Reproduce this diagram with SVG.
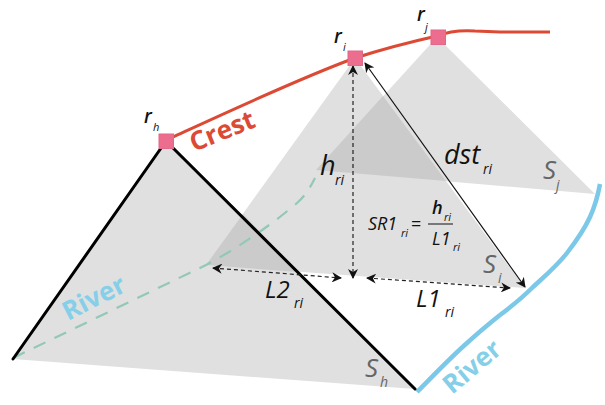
<svg xmlns="http://www.w3.org/2000/svg" width="605" height="405" viewBox="0 0 605 405">
<style>
text{font-family:"Open Sans","DejaVu Sans",sans-serif;font-style:italic;fill:#111}
.r{font-size:19px;font-weight:600}
.rs{font-size:11px}
.main{font-size:24px;font-weight:500}
.big{font-size:27px;font-weight:500}
.sub{font-size:14px}
.s{font-size:26px;fill:#666}
.ss{font-size:14px;fill:#666}
.f{font-size:18px}
.fs{font-size:11px}
.tri{fill:#e0e0e0}
.ov{fill:#cbcbcb}
.dash{fill:none;stroke:#222;stroke-width:1.2;stroke-dasharray:4 3}
.rk{fill:#ec6d8e;stroke:#e0688a;stroke-width:1}
.lab{font-style:normal;font-weight:700;font-size:26px}
</style>
<defs>
<marker id="a" viewBox="0 0 10 10" refX="9" refY="5" markerWidth="10" markerHeight="10" orient="auto-start-reverse" markerUnits="userSpaceOnUse"><path d="M0 0L10 5L0 10L3 5Z" fill="#111"/></marker>
</defs>
<g id="surfaces">
<polygon id="Sj" class="tri" points="437,37 316,170 595,194"/>
<polygon id="Si" class="tri" points="355,58 206,265 525,288"/>
<polygon id="Sh" class="tri" points="166,141 13,359 415,389"/>
<polygon class="ov" points="383,96 316,170 446,181"/>
<polygon class="ov" points="243,214 206,265 298,272"/>
</g>
<g id="connectors">
<path d="M13 358L206 265C240 247 275 222 297 203C305 196 310 188 315 178" fill="none" stroke="#93c8b4" stroke-width="2.2" stroke-dasharray="13 10"/>
<path d="M173 137C210 120 300 78 355 58C380 50 410 42 437 36C447 32 460 30 475 31L500 32L550 32" fill="none" stroke="#dc4a35" stroke-width="3"/>
<path d="M417 392C433 376 450 358 467 343C478 333 490 323 500 315C512 306 522 298 533 287C546 275 557 266 567 253C577 240 585 228 590 217C595 206 598 195 600 184" fill="none" stroke="#7cc8e8" stroke-width="4.5"/>
<path d="M166 141L13 359" fill="none" stroke="#000" stroke-width="3" stroke-linecap="round"/>
<path d="M166 141L415 389" fill="none" stroke="#000" stroke-width="3" stroke-linecap="round"/>
<line class="dash" x1="353" y1="66" x2="353" y2="278" marker-start="url(#a)" marker-end="url(#a)"/>
<line x1="365" y1="63" x2="525" y2="287" stroke="#111" stroke-width="1.2" marker-start="url(#a)" marker-end="url(#a)"/>
<line class="dash" x1="213" y1="268" x2="341" y2="278" marker-start="url(#a)" marker-end="url(#a)"/>
<line class="dash" x1="367" y1="278" x2="510" y2="288" marker-start="url(#a)" marker-end="url(#a)"/>
</g>
<g id="rh"><rect class="rk" x="159" y="134" width="14.5" height="14.5"/><text x="144" y="123" class="r">r</text><text x="153" y="131" class="rs">h</text></g>
<g id="ri"><rect class="rk" x="348" y="51" width="14.5" height="14.5"/><text x="334" y="43" class="r">r</text><text x="343" y="51" class="rs">i</text></g>
<g id="rj"><rect class="rk" x="431" y="30" width="14.5" height="14.5"/><text x="417" y="21" class="r">r</text><text x="425" y="31" class="rs">j</text></g>
<g id="labels">
<text class="lab" transform="translate(194 152) rotate(-22)" style="fill:#dc4a35">Crest</text>
<text class="lab" transform="translate(68 321) rotate(-27)" style="fill:#85cfe8">River</text>
<text class="lab" transform="translate(452 395) rotate(-40)" style="fill:#85cfe8">River</text>
<text x="320" y="175" class="big">h</text><text x="335" y="185" class="sub">ri</text>
<text x="444" y="164" class="big">dst</text><text x="483" y="174" class="sub">ri</text>
<text x="265" y="298" class="main">L2</text><text x="294" y="308" class="sub">ri</text>
<text x="416" y="307" class="main">L1</text><text x="445" y="317" class="sub">ri</text>
<text x="368" y="230" class="f">SR1</text><text x="401" y="237" class="fs">ri</text><text x="411" y="230" class="f" style="font-style:normal">=</text>
<text x="432" y="214" class="f" style="font-weight:600">h</text><text x="444" y="221" class="fs">ri</text>
<line x1="428" y1="224" x2="453" y2="224" stroke="#111" stroke-width="1"/>
<text x="432" y="245" class="f">L1</text><text x="453" y="251" class="fs">ri</text>
<text x="543" y="179" class="s">S</text><text x="556" y="190" class="ss">j</text>
<text x="483" y="273" class="s">S</text><text x="498" y="283" class="ss">i</text>
<text x="365" y="377" class="s">S</text><text x="380" y="387" class="ss">h</text>
</g>
</svg>
